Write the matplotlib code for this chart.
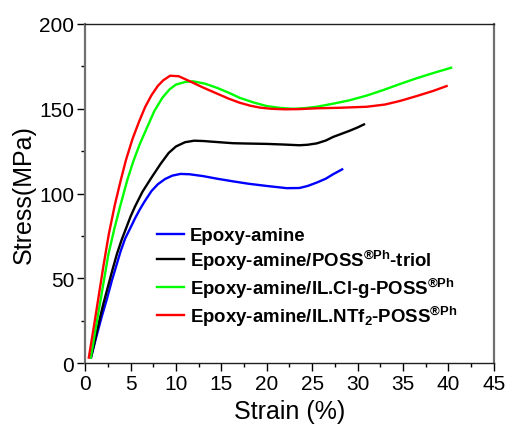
import matplotlib
matplotlib.use("Agg")
import matplotlib.pyplot as plt
from matplotlib.ticker import MultipleLocator

plt.rcParams["font.family"] = ["Liberation Sans", "DejaVu Sans"]
plt.rcParams["mathtext.fontset"] = "custom"
plt.rcParams["mathtext.rm"] = "Liberation Sans"
plt.rcParams["mathtext.bf"] = "Liberation Sans:bold"

# strain (%) / stress (MPa)
blue_x = [0.65, 1.2, 1.8, 2.4, 2.9, 3.4, 3.9, 4.4, 5.0, 5.5, 6.0, 6.5, 7.3, 8.0, 8.8, 9.6,
          10.5, 11.5, 13.0, 14.5, 16.3, 18.0, 20.0, 22.2, 23.6, 24.5, 25.5, 26.5, 27.3, 28.3]
blue_y = [3.5, 15, 27, 38, 48, 57, 66, 73.5, 80, 85.5, 90.5, 95, 101.5, 105.5, 108.6, 110.6,
          111.6, 111.4, 110.3, 108.8, 107.2, 105.8, 104.5, 103.2, 103.3, 104.5, 106.5, 108.8, 111.4, 114.3]

black_x = [0.65, 1.1, 1.6, 2.0, 2.45, 3.0, 3.5, 4.0, 4.5, 5.0, 5.5, 6.3, 7.2, 8.3, 9.2,
           10.0, 11.0, 12.0, 13.0, 14.5, 16.3, 18.0, 20.0, 22.0, 23.6, 24.5, 25.5, 26.5,
           27.3, 28.2, 29.1, 30.0, 30.7]
black_y = [3.5, 14, 26, 35, 44, 55, 64.5, 72.5, 79.5, 86.5, 92.5, 101, 108.6, 117.5, 124,
           127.8, 130.3, 131.2, 131, 130.4, 129.7, 129.5, 129.3, 128.9, 128.5, 128.8, 129.6, 131.3,
           133.4, 135.2, 137, 139, 140.8]

green_x = [0.62, 1.2, 1.72, 2.2, 2.55, 3.2, 3.9, 4.66, 5.3, 6.0, 6.9, 7.6, 8.5, 9.3, 10.0,
           11.0, 11.9, 13.2, 14.5, 15.8, 17.0, 18.5, 20.0, 21.5, 22.9, 24.2, 25.5, 27.3, 29.1,
           31.0, 32.8, 34.6, 36.5, 38.4, 40.3]
green_y = [3.3, 22, 38, 53, 64, 79, 93.5, 108.4, 119, 129, 140, 148.5, 156.5, 161.5, 164.3,
           165.8, 166.2, 164.8, 162.4, 159.5, 156.5, 153.8, 151.6, 150.5, 150, 150.4, 151.2,
           153, 155, 157.8, 161, 164.5, 168, 171.2, 174.2]

red_x = [0.4, 1.0, 1.5, 2.0, 2.6, 3.25, 3.9, 4.5, 5.2, 5.9, 6.6, 7.3, 8.0, 8.6, 9.35, 10.3,
         11.5, 13.0, 14.5, 15.8, 17.0, 18.2, 19.25, 20.5, 22.0, 23.5, 25.5, 28.0, 31.0,
         33.0, 34.65, 36.5, 38.3, 39.8]
red_y = [3.3, 23, 40, 57, 76, 93, 107.5, 120, 132, 142, 151, 158, 163.5, 166.8, 169.5, 169.2,
         166.3, 162.5, 159, 156, 153.6, 151.8, 150.7, 150, 149.7, 149.8, 150.3, 150.6, 151.2,
         152.5, 154.6, 157.5, 160.5, 163.4]

labels = [
    "Epoxy-amine",
    "Epoxy-amine/POSS$\\mathbf{^{\u00aePh}}$-triol",
    "Epoxy-amine/IL.Cl-g-POSS$\\mathbf{^{\u00aePh}}$",
    "Epoxy-amine/IL.NTf$\\mathbf{_2}$-POSS$\\mathbf{^{\u00aePh}}$",
]
colors = ["#0000ff", "#000000", "#00ff00", "#ff0000"]

fig = plt.figure(figsize=(5.07, 4.31), dpi=100)
ax = fig.add_axes([0.168, 0.155, 0.806, 0.787])

series = [(blue_x, blue_y), (black_x, black_y), (green_x, green_y), (red_x, red_y)]
for (xs, ys), lab, col in zip(series, labels, colors):
    ax.plot(xs, ys, color=col, lw=1.7, label=lab, solid_joinstyle="round")

ax.set_xlim(0, 45)
ax.set_ylim(0, 200)
ax.xaxis.set_major_locator(MultipleLocator(5))
ax.xaxis.set_minor_locator(MultipleLocator(2.5))
ax.yaxis.set_major_locator(MultipleLocator(50))
ax.yaxis.set_minor_locator(MultipleLocator(25))
ax.tick_params(which="major", length=6, width=1, labelsize=15, pad=2)
ax.tick_params(which="minor", length=3, width=1)

for side in ["left", "right"]:
    ax.spines[side].set_color("#707070")
    ax.spines[side].set_linewidth(1.6)
for side in ["top", "bottom"]:
    ax.spines[side].set_color("#202020")
    ax.spines[side].set_linewidth(1.0)

ax.set_xlabel("Strain (%)", fontsize=18, labelpad=4)
ax.set_ylabel("Stress(MPa)", fontsize=18, labelpad=2)

leg = ax.legend(loc="lower left", bbox_to_anchor=(0.176, 0.105), frameon=False,
                prop={"weight": "bold", "size": 13.4}, handlelength=1.45,
                handletextpad=0.3, labelspacing=0.2, borderaxespad=0, borderpad=0)

fig.savefig("out.png", dpi=100)
